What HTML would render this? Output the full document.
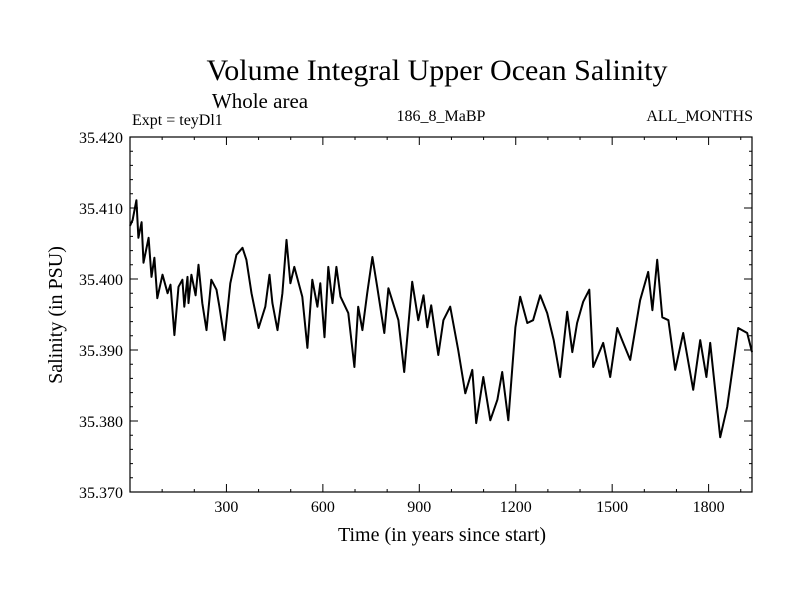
<!DOCTYPE html>
<html><head><meta charset="utf-8"><style>
html,body{margin:0;padding:0;background:#fff;}
svg{display:block;font-family:"Liberation Serif",serif;}
</style></head><body>
<svg id="chart" width="800" height="600">
<text x="437" y="80" font-size="30" text-anchor="middle">Volume Integral Upper Ocean Salinity</text>
<text x="260" y="108" font-size="21" text-anchor="middle">Whole area</text>
<text x="132" y="125" font-size="16">Expt = teyDl1</text>
<text x="441" y="121" font-size="16" text-anchor="middle">186_8_MaBP</text>
<text x="753" y="121" font-size="16" text-anchor="end">ALL_MONTHS</text>
<text x="442" y="541" font-size="20" text-anchor="middle">Time (in years since start)</text>
<text transform="translate(62,315) rotate(-90)" font-size="20" text-anchor="middle">Salinity (in PSU)</text>
<g id="ticks"></g>
<path id="line" fill="none" stroke="#000" stroke-width="2" stroke-linejoin="round"/>
<rect x="130" y="137" width="622" height="355" fill="none" stroke="#000" stroke-width="1.2"/>
</svg>
<script>
const years=[0,8,20,26,36,42,58,67,76,85,101,117,126,138,151,163,169,179,182,191,204,213,225,238,253,269,278,294,312,331,350,362,378,400,421,434,443,459,474,487,499,511,536,552,567,583,592,605,617,630,642,655,679,698,710,723,738,754,769,791,804,835,853,878,897,913,925,937,959,975,996,1021,1043,1065,1077,1099,1121,1143,1158,1177,1199,1214,1236,1254,1276,1298,1318,1338,1360,1376,1391,1410,1429,1441,1472,1494,1516,1531,1556,1587,1612,1625,1640,1656,1675,1696,1721,1752,1774,1793,1805,1836,1858,1877,1892,1920,1935];
const salinity=[35.4075,35.4083,35.4111,35.4058,35.4080,35.4023,35.4058,35.4003,35.4030,35.3973,35.4006,35.3980,35.3992,35.3921,35.3989,35.3999,35.3961,35.4003,35.3966,35.4006,35.3977,35.4020,35.3966,35.3928,35.3999,35.3985,35.3961,35.3914,35.3994,35.4034,35.4044,35.4027,35.3980,35.3931,35.3961,35.4006,35.3966,35.3928,35.3980,35.4055,35.3994,35.4017,35.3975,35.3903,35.3999,35.3961,35.3994,35.3918,35.4017,35.3966,35.4017,35.3975,35.3952,35.3876,35.3961,35.3928,35.3980,35.4031,35.3989,35.3924,35.3987,35.3942,35.3869,35.3996,35.3942,35.3977,35.3932,35.3963,35.3893,35.3942,35.3961,35.3900,35.3839,35.3872,35.3797,35.3862,35.3801,35.3830,35.3869,35.3801,35.3932,35.3975,35.3938,35.3942,35.3977,35.3952,35.3914,35.3862,35.3954,35.3897,35.3938,35.3968,35.3985,35.3876,35.3910,35.3862,35.3931,35.3914,35.3886,35.3970,35.4010,35.3956,35.4027,35.3946,35.3942,35.3872,35.3924,35.3844,35.3914,35.3862,35.3910,35.3777,35.3820,35.3882,35.3931,35.3924,35.3897];
const xTickLabels=[300,600,900,1200,1500,1800];
const yTickLabels=["35.370","35.380","35.390","35.400","35.410","35.420"];
const X0=130,X1=752,Y0=137,Y1=492,XMAX=1935,YMIN=35.37,YMAX=35.42;
function xs(v){return X0+v/XMAX*(X1-X0);}
function ys(v){return Y1-(v-YMIN)/(YMAX-YMIN)*(Y1-Y0);}
const NS="http://www.w3.org/2000/svg";
const g=document.getElementById('ticks');
let d="";
for(let v=100;v<XMAX;v+=100){const x=xs(v),L=v%300===0?8:3;d+=`M${x},${Y1}v${-L}M${x},${Y0}v${L}`;}
for(let i=0;i<=25;i++){const v=YMIN+i*0.002,y=ys(v),L=i%5===0?8:3;d+=`M${X0},${y}h${L}M${X1},${y}h${-L}`;}
const tp=document.createElementNS(NS,'path');
tp.setAttribute('d',d);tp.setAttribute('stroke','#000');tp.setAttribute('stroke-width','1');


g.appendChild(tp);
xTickLabels.forEach(v=>{const t=document.createElementNS(NS,'text');
t.setAttribute('x',xs(v));t.setAttribute('y',512);t.setAttribute('font-size','16');t.setAttribute('text-anchor','middle');t.textContent=v;


g.appendChild(t);});
yTickLabels.forEach(s=>{const t=document.createElementNS(NS,'text');
t.setAttribute('x',123);t.setAttribute('y',ys(parseFloat(s))+6);t.setAttribute('font-size','16');t.setAttribute('text-anchor','end');t.textContent=s;


g.appendChild(t);});
document.getElementById('line').setAttribute('d',years.map((v,i)=>(i?'L':'M')+xs(v).toFixed(1)+','+ys(salinity[i]).toFixed(1)).join(''));
</script>
</body></html>
